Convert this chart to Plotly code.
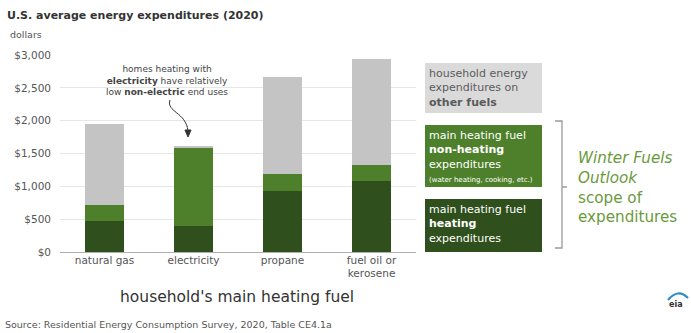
import plotly.graph_objects as go

# U.S. average household energy expenditures by main heating fuel, 2020 (dollars)
fuels = ["natural gas", "electricity", "propane", "fuel oil or<br>kerosene"]
heating = [470, 395, 930, 1080]
non_heating = [245, 1195, 260, 245]
other_fuels = [1235, 30, 1475, 1615]
tick_vals = [0, 500, 1000, 1500, 2000, 2500, 3000]
tick_text = ["$0", "$500", "$1,000", "$1,500", "$2,000", "$2,500", "$3,000"]

W, H = 691, 333
L, R, T, B = 60, 275, 55, 81
PW, PH = W - L - R, H - T - B
FONT = "DejaVu Sans, Liberation Sans, Arial, sans-serif"

C_DARK = "#2f4f1c"
C_MID = "#4e7f2b"
C_GRAY = "#c4c4c4"
C_GRAY_BOX = "#dadada"
C_TEXT_GREEN = "#6a9a3c"


def px(x):
    return (x - L) / PW


def py(y):
    return (H - B - y) / PH


fig = go.Figure()
for vals, col, nm in [(heating, C_DARK, "heating"),
                      (non_heating, C_MID, "non-heating"),
                      (other_fuels, C_GRAY, "other fuels")]:
    fig.add_bar(x=fuels, y=vals, name=nm,
                marker=dict(color=col, line=dict(width=0)))

shapes = []
annotations = []

# legend boxes on the right
boxes = [
    (63, 113, C_GRAY_BOX, "#5a5a5a",
     "household energy<br>expenditures on<br><b>other fuels</b>"),
    (125, 187, C_MID, "white",
     "main heating fuel<br><b>non-heating</b><br>expenditures<br>"
     "<span style='font-size:7px'>(water heating, cooking, etc.)</span>"),
    (199, 252, C_DARK, "white",
     "main heating fuel<br><b>heating</b><br>expenditures"),
]
for y0, y1, fill, tcol, txt in boxes:
    shapes.append(dict(type="rect", xref="paper", yref="paper",
                       x0=px(425), x1=px(542), y0=py(y1), y1=py(y0),
                       fillcolor=fill, line_width=0, layer="below"))
    annotations.append(dict(xref="paper", yref="paper", x=px(427), y=py(y0 + 2),
                            xanchor="left", yanchor="top", align="left",
                            text=txt, showarrow=False,
                            font=dict(family=FONT, size=11, color=tcol)))

# bracket around the two green boxes
shapes.append(dict(type="path", xref="paper", yref="paper",
                   path=f"M {px(555)},{py(121)} L {px(562)},{py(121)} "
                        f"L {px(562)},{py(248)} L {px(555)},{py(248)} "
                        f"M {px(562)},{py(187)} L {px(567)},{py(187)}",
                   line=dict(color="#9a9a9a", width=1.3)))

annotations.append(dict(
    xref="paper", yref="paper", x=px(576), y=py(187), xanchor="left",
    yanchor="middle", align="left", showarrow=False,
    text="<i>Winter Fuels<br>Outlook</i><br>scope of<br>expenditures",
    font=dict(family=FONT, size=15.2, color=C_TEXT_GREEN)))

# callout about electricity
annotations.append(dict(
    xref="paper", yref="paper", x=px(167), y=py(62), xanchor="center",
    yanchor="top", align="center", showarrow=False,
    text="homes heating with<br><b>electricity</b> have relatively<br>"
         "low <b>non-electric</b> end uses",
    font=dict(family=FONT, size=9, color="#444444")))
shapes.append(dict(type="path", xref="paper", yref="paper",
                   path=f"M {px(170)},{py(100)} C {px(166)},{py(112)} "
                        f"{px(186)},{py(112)} {px(188)},{py(131)}",
                   line=dict(color="#333333", width=1)))
shapes.append(dict(type="path", xref="paper", yref="paper",
                   path=f"M {px(185)},{py(130)} L {px(191)},{py(130)} "
                        f"L {px(188)},{py(137)} Z",
                   fillcolor="#333333", line=dict(color="#333333", width=1)))

# titles and notes
annotations += [
    dict(xref="paper", yref="paper", x=px(5), y=py(16), xanchor="left",
         yanchor="middle", showarrow=False,
         text="<b>U.S. average energy expenditures (2020)</b>",
         font=dict(family=FONT, size=11, color="#333333")),
    dict(xref="paper", yref="paper", x=px(8), y=py(34), xanchor="left",
         yanchor="middle", showarrow=False, text="dollars",
         font=dict(family=FONT, size=9.5, color="#555555")),
    dict(xref="paper", yref="paper", x=px(237), y=py(297), xanchor="center",
         yanchor="middle", showarrow=False,
         text="household's main heating fuel",
         font=dict(family=FONT, size=15.5, color="#333333")),
    dict(xref="paper", yref="paper", x=px(3), y=py(324), xanchor="left",
         yanchor="middle", showarrow=False,
         text="Source: Residential Energy Consumption Survey, 2020, Table CE4.1a",
         font=dict(family=FONT, size=9.5, color="#555555")),
    dict(xref="paper", yref="paper", x=px(676), y=py(304), xanchor="center",
         yanchor="middle", showarrow=False, text="<b>eia</b>",
         font=dict(family=FONT, size=8, color="#333333")),
]
shapes.append(dict(type="path", xref="paper", yref="paper",
                   path=f"M {px(668)},{py(300)} Q {px(678)},{py(288)} {px(688)},{py(298)}",
                   line=dict(color="#2a8fc8", width=2.2)))

fig.update_layout(
    width=W, height=H, margin=dict(l=L, r=R, t=T, b=B),
    paper_bgcolor="white", plot_bgcolor="white",
    barmode="stack", bargap=0.57, showlegend=False,
    font=dict(family=FONT, color="#666666"),
    shapes=shapes, annotations=annotations,
    xaxis=dict(range=[-0.5, 3.5], showgrid=False, showline=False,
               ticks="", tickfont=dict(size=10.5, color="#555555")),
    yaxis=dict(range=[0, 3000], tickvals=tick_vals, ticktext=tick_text,
               showgrid=True, gridcolor="#e6e6e6", gridwidth=1,
               zeroline=True, zerolinecolor="#b0b0b0", zerolinewidth=1,
               ticks="", ticklabelstandoff=8,
               tickfont=dict(size=10.5, color="#555555")),
)

fig.write_html("out.html")
